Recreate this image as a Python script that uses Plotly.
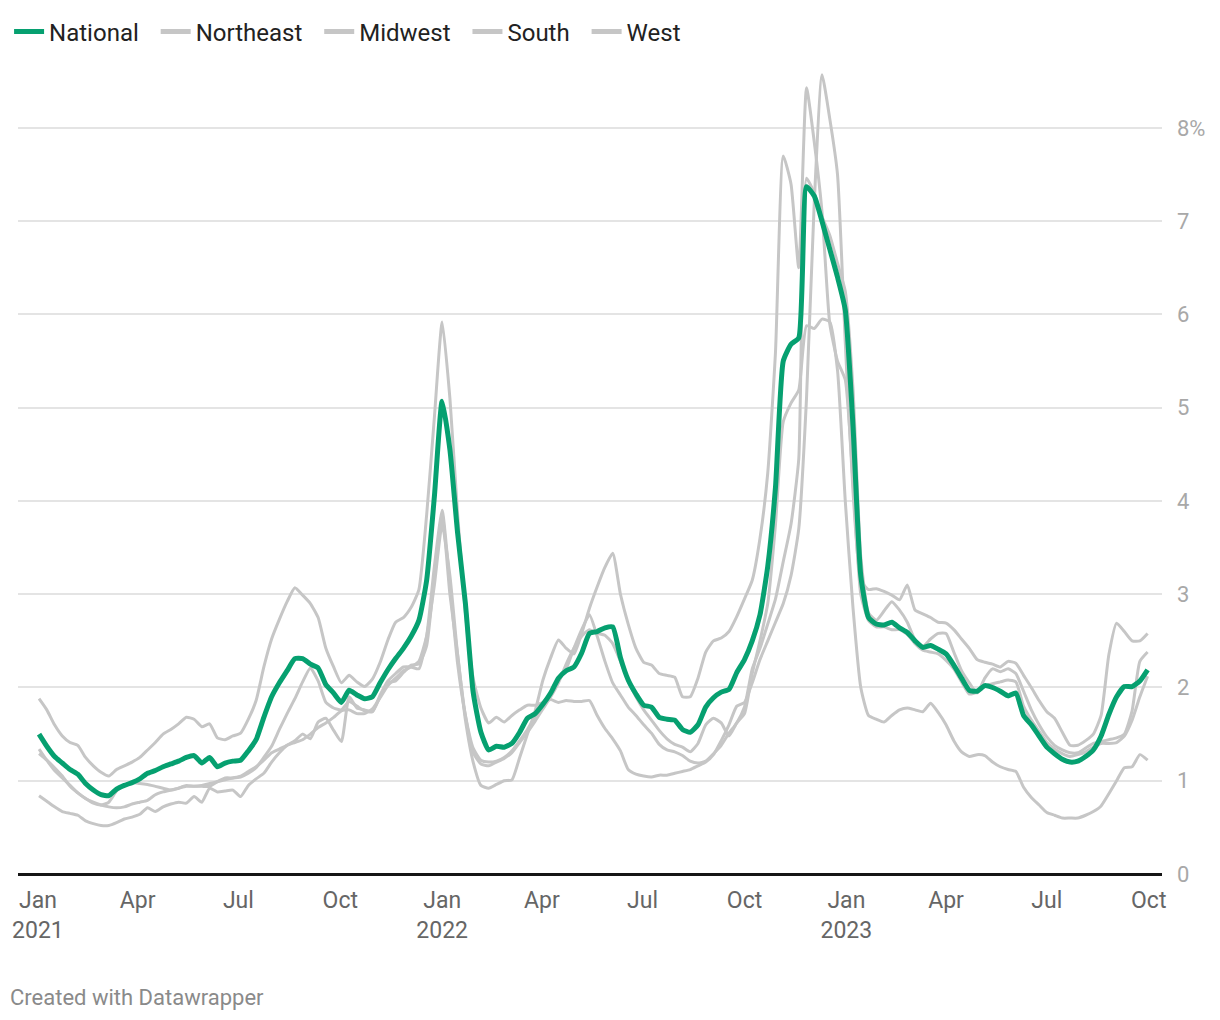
import pandas as pd
import plotly.graph_objects as go

# Weekly dates (week ending Saturdays), Jan 2021 - Sep 2023
dates = pd.date_range("2021-01-02", periods=144, freq="7D")

national = [
    1.50, 1.37, 1.26, 1.19, 1.12, 1.07, 0.97, 0.90, 0.85, 0.84, 0.91, 0.95,
    0.98, 1.02, 1.08, 1.11, 1.15, 1.18, 1.21, 1.25, 1.27, 1.19, 1.25, 1.15,
    1.19, 1.21, 1.22, 1.32, 1.44, 1.68, 1.90, 2.05, 2.18, 2.31, 2.31, 2.25,
    2.21, 2.03, 1.94, 1.84, 1.97, 1.92, 1.88, 1.90, 2.05, 2.19, 2.31, 2.42,
    2.55, 2.72, 3.15, 4.05, 5.07, 4.55, 3.65, 2.90, 1.95, 1.52, 1.33, 1.37,
    1.36, 1.40, 1.52, 1.67, 1.72, 1.82, 1.94, 2.10, 2.18, 2.22, 2.37, 2.58,
    2.60, 2.64, 2.65, 2.32, 2.08, 1.93, 1.81, 1.79, 1.68, 1.66, 1.65, 1.55,
    1.52, 1.60, 1.79, 1.89, 1.95, 1.98, 2.16, 2.30, 2.50, 2.78, 3.30, 4.15,
    5.50, 5.68, 5.75, 7.37, 7.27, 7.00, 6.70, 6.40, 6.05, 4.80, 3.20, 2.75,
    2.68, 2.67, 2.70, 2.64, 2.59, 2.50, 2.43, 2.45, 2.41, 2.36, 2.24, 2.10,
    1.97, 1.96, 2.02, 2.00, 1.96, 1.91, 1.94, 1.70, 1.60, 1.48, 1.36, 1.29,
    1.23, 1.20, 1.21, 1.26, 1.33, 1.48, 1.71, 1.90, 2.01, 2.01, 2.07, 2.19,
]

northeast = [
    1.88, 1.76, 1.60, 1.48, 1.41, 1.38, 1.25, 1.16, 1.09, 1.05, 1.12, 1.16,
    1.20, 1.25, 1.33, 1.41, 1.50, 1.55, 1.61, 1.68, 1.66, 1.58, 1.61, 1.46,
    1.44, 1.48, 1.51, 1.66, 1.86, 2.22, 2.52, 2.73, 2.92, 3.07, 2.99, 2.90,
    2.75, 2.42, 2.22, 2.05, 2.13, 2.06, 2.01, 2.09, 2.27, 2.51, 2.70, 2.75,
    2.86, 3.05, 3.85, 4.90, 5.92, 5.10, 3.85, 2.80, 2.10, 1.78, 1.62, 1.68,
    1.63, 1.70, 1.76, 1.81, 1.81, 1.84, 1.87, 1.84, 1.86, 1.85, 1.85, 1.86,
    1.70, 1.56, 1.45, 1.32, 1.12, 1.07, 1.05, 1.04, 1.06, 1.06, 1.08, 1.10,
    1.12, 1.16, 1.20, 1.28, 1.43, 1.60, 1.80, 1.84, 2.05, 2.30, 2.50, 2.70,
    2.90, 3.20, 3.70, 5.10, 7.20, 8.57, 8.10, 7.50, 5.70, 4.10, 3.15, 3.05,
    3.06, 3.03, 2.99, 2.94, 3.10, 2.83, 2.79, 2.75, 2.70, 2.69, 2.62, 2.52,
    2.42, 2.30, 2.27, 2.25, 2.22, 2.28, 2.26, 2.13, 2.00, 1.86, 1.74, 1.67,
    1.52, 1.38, 1.38, 1.43, 1.50, 1.70, 2.35, 2.69, 2.60, 2.50, 2.50, 2.58,
]

midwest = [
    1.29, 1.22, 1.14, 1.05, 0.94, 0.87, 0.81, 0.76, 0.74, 0.77, 0.89, 0.95,
    0.98, 0.97, 0.96, 0.94, 0.92, 0.90, 0.92, 0.95, 0.94, 0.94, 0.94, 0.99,
    1.03, 1.03, 1.04, 1.08, 1.14, 1.25, 1.37, 1.55, 1.72, 1.88, 2.06, 2.21,
    2.07, 1.84, 1.78, 1.76, 1.85, 1.80, 1.75, 1.74, 1.92, 2.07, 2.15, 2.22,
    2.22, 2.20, 2.55, 3.30, 3.90, 3.10, 2.25, 1.70, 1.35, 1.22, 1.20, 1.21,
    1.25, 1.32, 1.43, 1.55, 1.69, 1.82, 1.95, 2.08, 2.20, 2.42, 2.62, 2.78,
    2.55, 2.28, 2.05, 1.92, 1.79, 1.70, 1.60, 1.51, 1.39, 1.33, 1.31, 1.27,
    1.21, 1.19, 1.21, 1.29, 1.38, 1.51, 1.62, 1.79, 2.20, 2.42, 2.68, 2.95,
    3.35, 3.75, 4.45, 7.46, 7.30, 7.05, 6.85, 6.55, 6.25, 5.20, 3.40, 2.80,
    2.72, 2.82, 2.92, 2.83, 2.70, 2.51, 2.44, 2.52, 2.58, 2.58, 2.38, 2.18,
    2.05, 1.94, 2.10, 2.20, 2.17, 2.20, 2.15, 1.96, 1.76, 1.60, 1.47, 1.38,
    1.33, 1.30, 1.30, 1.35, 1.40, 1.42, 1.44, 1.46, 1.50, 1.75, 2.28, 2.38,
]

south = [
    0.84, 0.78, 0.72, 0.67, 0.65, 0.63, 0.57, 0.54, 0.52, 0.52, 0.55, 0.59,
    0.61, 0.64, 0.71, 0.67, 0.72, 0.75, 0.77, 0.76, 0.83, 0.77, 0.92, 0.88,
    0.89, 0.90, 0.83, 0.95, 1.02, 1.08, 1.20, 1.30, 1.38, 1.43, 1.50, 1.45,
    1.63, 1.67, 1.54, 1.42, 1.90, 1.78, 1.76, 1.74, 1.90, 2.05, 2.07, 2.16,
    2.24, 2.25, 2.45, 3.20, 3.85, 3.00, 2.35, 1.65, 1.20, 0.95, 0.92, 0.96,
    1.00, 1.01, 1.25, 1.50, 1.75, 2.08, 2.32, 2.51, 2.42, 2.36, 2.58, 2.85,
    3.08, 3.29, 3.44, 3.00, 2.68, 2.42, 2.27, 2.24, 2.15, 2.13, 2.11, 1.90,
    1.90, 2.10, 2.38, 2.50, 2.53, 2.60, 2.76, 2.95, 3.15, 3.60, 4.30, 5.60,
    7.70, 7.40, 6.50, 8.43, 7.85, 7.10, 5.90, 5.50, 5.30, 4.20, 3.00, 2.72,
    2.65, 2.65, 2.62, 2.62, 2.57, 2.47, 2.40, 2.38, 2.36, 2.29, 2.20, 2.06,
    1.93, 1.95, 2.01, 2.04, 2.06, 2.08, 2.06, 1.80, 1.65, 1.53, 1.41, 1.34,
    1.29, 1.26, 1.28, 1.31, 1.36, 1.40, 1.40, 1.41, 1.48, 1.65, 1.90, 2.12,
]

west = [
    1.34, 1.22, 1.11, 1.03, 0.95, 0.87, 0.81, 0.77, 0.74, 0.72, 0.71, 0.72,
    0.75, 0.77, 0.79, 0.85, 0.88, 0.90, 0.92, 0.94, 0.94, 0.95, 0.97, 0.99,
    1.01, 1.03, 1.05, 1.10, 1.15, 1.22, 1.30, 1.34, 1.38, 1.41, 1.44, 1.50,
    1.57, 1.62, 1.68, 1.75, 1.76, 1.72, 1.72, 1.77, 1.89, 2.02, 2.10, 2.18,
    2.22, 2.28, 2.55, 3.10, 3.75, 3.20, 2.35, 1.70, 1.30, 1.18, 1.16, 1.20,
    1.24, 1.30, 1.41, 1.52, 1.64, 1.77, 1.90, 2.05, 2.25, 2.42, 2.55, 2.62,
    2.58, 2.56, 2.47, 2.28, 2.07, 1.90, 1.76, 1.65, 1.54, 1.45, 1.39, 1.36,
    1.31, 1.40, 1.60, 1.67, 1.62, 1.48, 1.62, 1.72, 2.15, 2.50, 2.90, 3.75,
    4.85, 5.05, 5.19, 5.88, 5.85, 5.95, 5.92, 5.40, 4.00, 2.85, 2.00, 1.70,
    1.66, 1.63, 1.70, 1.76, 1.78, 1.76, 1.74, 1.83, 1.73, 1.60, 1.43, 1.31,
    1.26, 1.28, 1.27, 1.20, 1.15, 1.12, 1.10, 0.93, 0.82, 0.74, 0.66, 0.63,
    0.60, 0.60, 0.60, 0.63, 0.67, 0.73, 0.86, 1.00, 1.14, 1.15, 1.28, 1.22,
]

series_names = ["National", "Northeast", "Midwest", "South", "West"]

tick_dates = ["2021-01-01", "2021-04-01", "2021-07-01", "2021-10-01",
              "2022-01-01", "2022-04-01", "2022-07-01", "2022-10-01",
              "2023-01-01", "2023-04-01", "2023-07-01", "2023-10-01"]
tick_labels = ["Jan<br>2021", "Apr", "Jul", "Oct",
               "Jan<br>2022", "Apr", "Jul", "Oct",
               "Jan<br>2023", "Apr", "Jul", "Oct"]
y_ticks = [0, 1, 2, 3, 4, 5, 6, 7, 8]
y_labels = ["0", "1", "2", "3", "4", "5", "6", "7", "8%"]

GREEN = "#06a070"
GREY = "#c6c6c6"
PAD = "\u00a0\u00a0"  # extra spacing after each legend label

values = {"National": national, "Northeast": northeast, "Midwest": midwest,
          "South": south, "West": west}
colors = {n: (GREEN if n == "National" else GREY) for n in series_names}

fig = go.Figure()
# data lines: regions first (underneath), national on top
for name in series_names[1:] + series_names[:1]:
    fig.add_trace(go.Scatter(
        x=dates, y=values[name], name=name, mode="lines",
        legendgroup=name, showlegend=False,
        line=dict(color=colors[name], width=5 if name == "National" else 3,
                  shape="spline", smoothing=0.5),
        hoverinfo="skip"))
# legend entries (thick swatches like the original key)
for rank, name in enumerate(series_names, start=1):
    fig.add_trace(go.Scatter(
        x=[None], y=[None], name=name + PAD, mode="lines",
        legendgroup=name, legendrank=rank, showlegend=True,
        line=dict(color=colors[name], width=5)))

fig.update_layout(
    width=1220, height=1020,
    margin=dict(l=18, r=58, t=72, b=146, pad=0, autoexpand=False),
    paper_bgcolor="white", plot_bgcolor="white",
    font=dict(family="Roboto", color="#333"),
    showlegend=True,
    legend=dict(orientation="h", x=-0.0078, xanchor="left",
                y=1.0499, yanchor="middle",
                font=dict(size=24, color="#222"),
                bgcolor="rgba(0,0,0,0)", itemwidth=30,
                traceorder="normal"),
    xaxis=dict(type="date", range=["2020-12-14", "2023-10-13"],
               tickvals=tick_dates, ticktext=tick_labels,
               showgrid=False, showline=False, zeroline=False, ticks="",
               tickfont=dict(size=23, color="#666666"),
               ticklabelstandoff=10, fixedrange=True, automargin=False),
    yaxis=dict(side="right", range=[0, 8.6],
               tickvals=y_ticks, ticktext=y_labels,
               showgrid=True, gridcolor="#e4e4e4", gridwidth=1.5,
               zeroline=True, zerolinecolor="#161616", zerolinewidth=2.8,
               showline=False, ticks="",
               tickfont=dict(size=22, color="#a8a8a8"),
               ticklabelstandoff=14, fixedrange=True, automargin=False),
    annotations=[dict(text="Created with Datawrapper", xref="paper", yref="paper",
                      x=(8 - 18) / 1144, y=-(997 - 874) / 802,
                      xanchor="left", yanchor="middle", showarrow=False,
                      font=dict(size=22, color="#8a8a8a"))],
)

fig.write_html("out.html", config={"displayModeBar": False},
               post_script="document.body.style.margin='0';document.body.style.overflow='hidden';")
